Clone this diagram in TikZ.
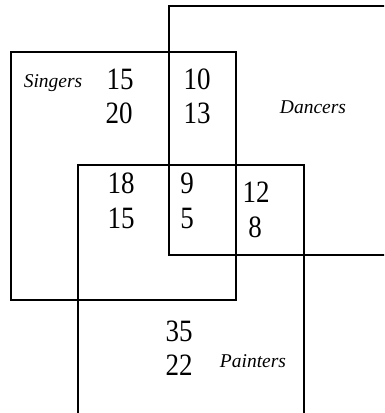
\documentclass[tikz,border=0pt]{standalone}
\usepackage{fontspec}
\setmainfont{Liberation Serif}
\begin{document}
\begin{tikzpicture}[x=1pt,y=-1pt,
  box/.style={draw=black,line width=1.3pt},
  num/.style={inner sep=0pt,font=\fontsize{27}{30}\selectfont},
  lbl/.style={inner sep=0pt,font=\fontsize{19.5}{22}\selectfont\itshape}]
\useasboundingbox (0,0) rectangle (384,413);
\begin{scope}
\clip (0,0) rectangle (384,413);
\draw[box] (169,6) rectangle (400,255);
\draw[box] (11,52) rectangle (236,300);
\draw[box] (78,165) rectangle (304,430);
\end{scope}
\newcommand\nm[1]{\scalebox{1}[1.15]{#1}}
\node[lbl] (singers) at (53,83) {Singers};
\node[lbl] (dancers) at (313,107) {Dancers};
\node[lbl] (painters) at (253,361) {Painters};
\node[num] (a1) at (120,79) {\nm{15}};
\node[num] (a2) at (119,113) {\nm{20}};
\node[num] (b1) at (197,79) {\nm{10}};
\node[num] (b2) at (197,113) {\nm{13}};
\node[num] (c1) at (121,183) {\nm{18}};
\node[num] (c2) at (121,218) {\nm{15}};
\node[num] (d1) at (187,183) {\nm{9}};
\node[num] (d2) at (187,218) {\nm{5}};
\node[num] (e1) at (256,192) {\nm{12}};
\node[num] (e2) at (255,227) {\nm{8}};
\node[num] (f1) at (179,331) {\nm{35}};
\node[num] (f2) at (179,365) {\nm{22}};
\end{tikzpicture}
\end{document}
